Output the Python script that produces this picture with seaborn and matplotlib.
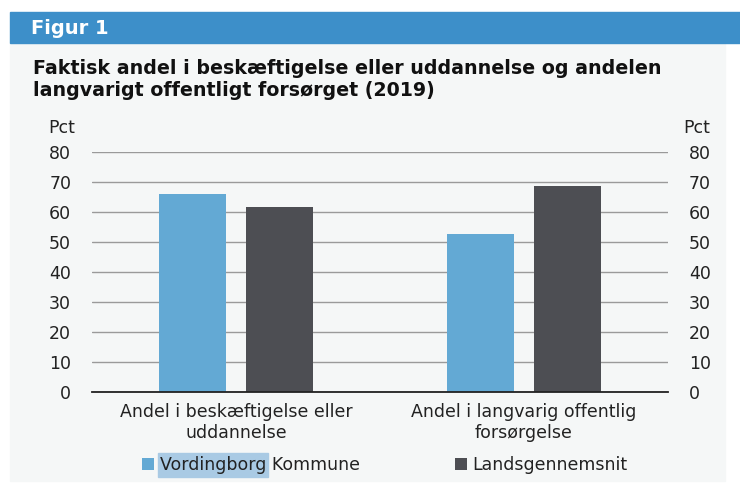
import pandas as pd
import seaborn as sns
import matplotlib.pyplot as plt
from matplotlib.patches import Rectangle

# data
kategorier = ['Andel i beskæftigelse eller\nuddannelse', 'Andel i langvarig offentlig\nforsørgelse']
serier = ['Vordingborg Kommune', 'Landsgennemsnit']
vordingborg = [66.0, 52.5]
landsgennemsnit = [61.5, 68.5]
y_ticks = [0, 10, 20, 30, 40, 50, 60, 70, 80]

df = pd.DataFrame({
    'kategori': kategorier * 2,
    'serie': [serier[0]] * 2 + [serier[1]] * 2,
    'pct': vordingborg + landsgennemsnit,
})

sns.set_theme(style='white')
plt.rcParams['font.family'] = ['DejaVu Sans']

farver = {'Vordingborg Kommune': '#63a9d4', 'Landsgennemsnit': '#4d4e53'}
panel = '#f5f7f7'
tekst = '#222222'

fig = plt.figure(figsize=(7.4, 4.86), dpi=100, facecolor='white')

# baggrund og blaa overskriftsbjaelke
fig.patches.append(Rectangle((10/740, 1 - 481/486), 715/740, (481 - 42)/486,
                             transform=fig.transFigure, color=panel, zorder=-2))
fig.patches.append(Rectangle((10/740, 1 - 43/486), 730/740, 31/486,
                             transform=fig.transFigure, color='#3d8fc9', zorder=-1))
fig.text(31/740, 1 - 28/486, 'Figur 1', color='white', fontsize=14,
         fontweight='bold', va='center')
fig.text(33/740, 1 - 80/486,
         'Faktisk andel i beskæftigelse eller uddannelse og andelen\nlangvarigt offentligt forsørget (2019)',
         fontsize=13.7, fontweight='bold', va='center', linespacing=1.2, color='#111111')

ax = fig.add_axes([92/740, 94/486, 576/740, 240/486])
ax.set_facecolor(panel)
sns.barplot(data=df, x='kategori', y='pct', hue='serie', palette=farver,
            width=0.6, gap=0.22, saturation=1, linewidth=0, ax=ax, legend=True, zorder=3)

ax.set_ylim(0, 80)
ax.set_xlim(-0.5, 1.5)
ax.set_yticks(y_ticks)
ax.yaxis.grid(True, color='#9a9a9a', lw=1)
ax.set_axisbelow(True)
for s in ['top', 'left', 'right']:
    ax.spines[s].set_visible(False)
ax.spines['bottom'].set_color(tekst)
ax.spines['bottom'].set_linewidth(1.3)
ax.spines['bottom'].set_zorder(4)

ax.tick_params(axis='y', labelleft=True, labelright=True, length=0, pad=15,
               labelsize=12.5, labelcolor=tekst)
ax.set_xticks([-0.5, 0.5, 1.5], minor=True)
ax.tick_params(axis='x', which='minor', length=4, width=1, color=tekst, direction='out')
ax.tick_params(axis='x', which='major', length=0, pad=8, labelsize=12.5, labelcolor=tekst)
ax.set_xlabel('')
ax.set_ylabel('')

fig.text(62/740, 1 - 128/486, 'Pct', fontsize=12.5, ha='center', va='center', color=tekst)
fig.text(697/740, 1 - 128/486, 'Pct', fontsize=12.5, ha='center', va='center', color=tekst)

handles, labels = ax.get_legend_handles_labels()
ax.get_legend().remove()
leg = fig.legend(handles, labels, loc='center', bbox_to_anchor=(385/740, 1 - 465/486), ncol=2,
                 frameon=False, fontsize=12.5, handlelength=0.7, handleheight=0.7,
                 handletextpad=0.3, columnspacing=5.5, labelcolor=tekst)

# markering af "Vordingborg" som i forlaegget
fig.canvas.draw()
r = fig.canvas.get_renderer()
bb = leg.get_texts()[0].get_window_extent(r)
tmp = fig.text(0, 0, 'Vordingborg', fontsize=12.5)
w = tmp.get_window_extent(r).width
tmp.remove()
fig.patches.append(Rectangle(((bb.x0 - 2) / 740, (bb.y0 - 3) / 486), (w + 4) / 740, (bb.height + 6) / 486,
                             transform=fig.transFigure, color='#a9cae4', zorder=-0.5))

fig.savefig('out.png', dpi=100, facecolor='white')
